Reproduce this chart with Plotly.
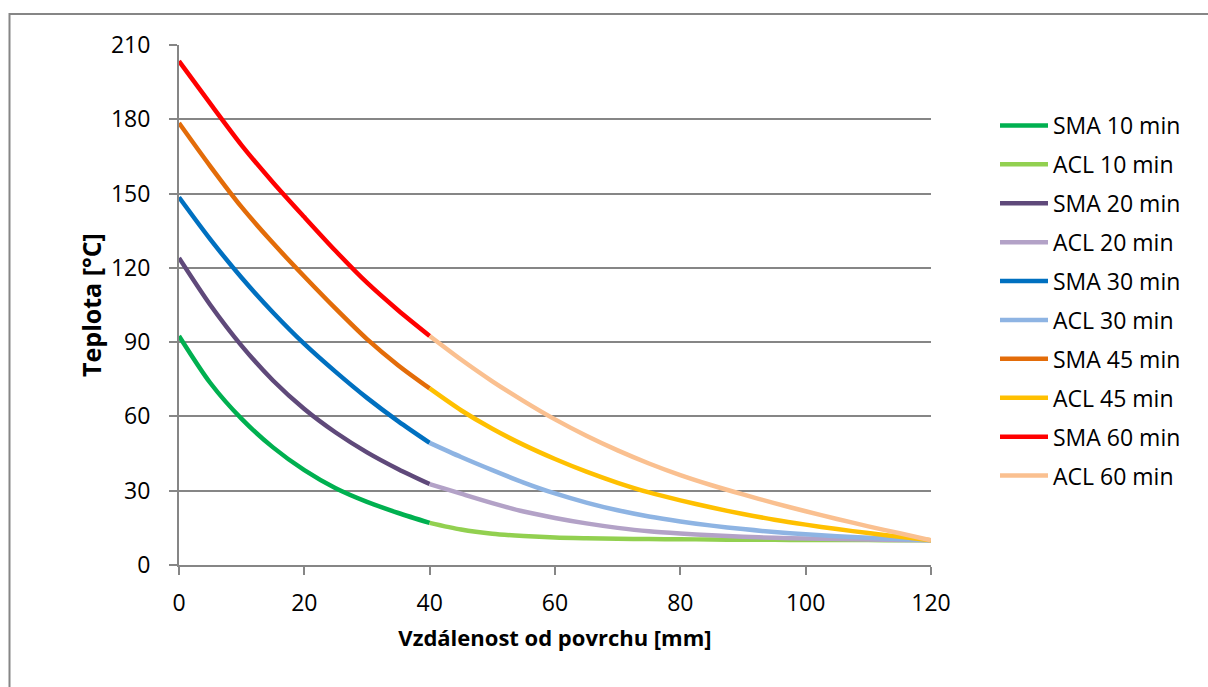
import plotly.graph_objects as go

# Distance from surface [mm]
x_sma = [0, 5, 10, 15, 20, 25, 30, 35, 40]
x_acl = [40, 45, 50, 55, 60, 65, 70, 75, 80, 85, 90, 95, 100, 105, 110, 115, 120]

# Temperature [°C]
sma_10 = [92.5, 73.5, 59, 47.5, 38.3, 31, 25.5, 21, 17]
acl_10 = [17, 14.3, 12.6, 11.7, 11.1, 10.8, 10.6, 10.5, 10.4, 10.3, 10.2, 10.15, 10.1, 10.07, 10.05, 10.02, 10]
sma_20 = [124, 105, 88.5, 74.5, 63, 53.5, 45.5, 38.7, 32.7]
acl_20 = [32.7, 28.8, 25, 21.6, 19, 16.8, 15, 13.6, 12.7, 12, 11.4, 11, 10.7, 10.5, 10.3, 10.1, 10]
sma_30 = [148.5, 131.5, 116, 102, 89.3, 78, 67.5, 58, 49.3]
acl_30 = [49.3, 43.6, 38.3, 33.3, 28.9, 25.2, 22.1, 19.6, 17.6, 15.9, 14.5, 13.3, 12.4, 11.6, 11, 10.5, 10]
sma_45 = [178.5, 161, 144.5, 130, 116.5, 103.5, 91.2, 80.6, 71.3]
acl_45 = [71.3, 62.5, 55, 48.5, 42.8, 37.7, 33.2, 29.3, 26.1, 23.2, 20.6, 18.3, 16.3, 14.5, 12.9, 11.4, 10]
sma_60 = [203.5, 186.3, 169.5, 154.5, 140.5, 126.8, 114, 102.8, 92.5]
acl_60 = [92.5, 83, 74.2, 66.2, 58.8, 52.2, 46.3, 41, 36.3, 32.2, 28.5, 25, 21.7, 18.6, 15.6, 12.8, 10]

names = ["SMA 10 min", "ACL 10 min", "SMA 20 min", "ACL 20 min", "SMA 30 min",
         "ACL 30 min", "SMA 45 min", "ACL 45 min", "SMA 60 min", "ACL 60 min"]
colors = ["#00B050", "#92D050", "#5F497A", "#B3A2C7", "#0070C0",
          "#8EB4E3", "#E36C09", "#FFC000", "#FF0000", "#FAC090"]
series_y = [sma_10, acl_10, sma_20, acl_20, sma_30, acl_30, sma_45, acl_45, sma_60, acl_60]
series_x = [x_sma, x_acl] * 5

fig = go.Figure()
for name, xs, ys, col in zip(names, series_x, series_y, colors):
    fig.add_trace(go.Scatter(
        x=xs, y=ys, mode="lines", name=name, legendgroup=name,
        line=dict(color=col, width=4.5, shape="spline", smoothing=0.8),
    ))

grid = "#868686"
W, H = 1208, 687
L, R, T, B = 179, 931, 45, 565

fig.update_layout(
    width=W, height=H,
    margin=dict(l=L, r=W - R, t=T, b=H - B, pad=0),
    paper_bgcolor="white", plot_bgcolor="white",
    font=dict(family="Open Sans, sans-serif", color="#000000"),
    showlegend=True,
    legend=dict(
        x=(995 - L) / (R - L), xanchor="left",
        y=(B - 104) / (B - T), yanchor="top",
        font=dict(size=23, color="#000000"),
        bgcolor="rgba(0,0,0,0)", borderwidth=0,
        tracegroupgap=6, itemwidth=48,
    ),
    xaxis=dict(
        range=[0, 120], tick0=0, dtick=20, showgrid=False, zeroline=False,
        showline=True, linecolor=grid, linewidth=2,
        ticks="outside", ticklen=8, tickwidth=2, tickcolor=grid,
        tickfont=dict(size=23, color="#000000"), ticklabelstandoff=8,
        title=dict(text="<b>Vzdálenost od povrchu [mm]</b>", font=dict(size=22), standoff=14),
    ),
    yaxis=dict(
        range=[0, 210], tick0=0, dtick=30, showgrid=True, gridcolor=grid, gridwidth=2,
        zeroline=False, showline=True, linecolor=grid, linewidth=2,
        ticks="outside", ticklen=8, tickwidth=2, tickcolor=grid,
        tickfont=dict(size=23, color="#000000"), ticklabelstandoff=14,
        title=dict(text="<b>Teplota [°C]</b>", font=dict(size=25), standoff=2),
    ),
    shapes=[dict(
        type="rect", xref="paper", yref="paper", layer="below",
        x0=(9.5 - L) / (R - L), x1=1.6,
        y0=-0.5, y1=(B - 14) / (B - T),
        line=dict(color=grid, width=2), fillcolor="rgba(0,0,0,0)",
    )],
)

fig.write_html("out.html")
